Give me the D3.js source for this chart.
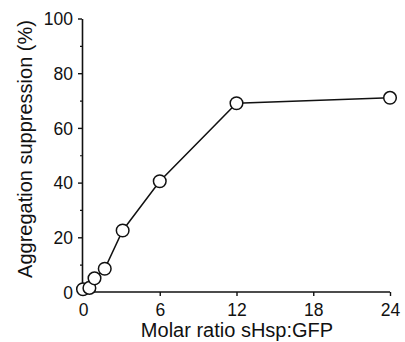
<!DOCTYPE html>
<html><head><meta charset="utf-8">
<script src="https://cdn.jsdelivr.net/npm/d3@7"></script>
<style>body{margin:0;background:#fff}svg{display:block}text{font-family:"Liberation Sans",Arial,sans-serif;fill:#111}</style>
</head><body>
<svg id="c" width="405" height="342"></svg>
<script>
const ratio = [0, 0.5, 0.9, 1.7, 3.1, 6, 12, 24];
const suppression = [1, 1.5, 5, 8.5, 22.5, 40.5, 69, 71];
const xTicks = [0, 6, 12, 18, 24];
const yTicks = [0, 20, 40, 60, 80, 100];
const yMinor = [10, 30, 50, 70, 90];

const svg = d3.select("#c");
const x = d3.scaleLinear().domain([0, 24]).range([83, 390]);
const y = d3.scaleLinear().domain([0, 100]).range([292, 18.5]);
const x0 = 82;

// y axis
const ya = svg.append("g").attr("transform", `translate(${x0},0)`)
  .call(d3.axisLeft(y).tickValues(yTicks).tickSize(4).tickPadding(5).tickSizeOuter(0));
ya.select(".domain").attr("stroke", "#111").attr("stroke-width", 1.6);
ya.selectAll(".tick line").attr("stroke", "#111").attr("stroke-width", 1.4);
ya.selectAll(".tick text").style("font-size", "17.5px").attr("dy", "0.36em");
svg.append("g").attr("transform", `translate(${x0},0)`)
  .call(d3.axisLeft(y).tickValues(yMinor).tickSize(2).tickFormat(""))
  .call(g => g.select(".domain").remove())
  .selectAll("line").attr("stroke", "#111").attr("stroke-width", 1.2);

// x axis
const xa = svg.append("g").attr("transform", `translate(0,${y(0)})`)
  .call(d3.axisBottom(x).tickValues(xTicks).tickSize(4).tickPadding(8).tickSizeOuter(0));
xa.select(".domain").attr("stroke", "#111").attr("stroke-width", 1.6).attr("d", `M${x0},0H${x(24)}`);
xa.selectAll(".tick line").attr("stroke", "#111").attr("stroke-width", 1.4);
xa.selectAll(".tick text").style("font-size", "17.5px");

// titles
svg.append("text").attr("x", 237).attr("y", 337).attr("text-anchor", "middle")
  .style("font-size", "20px").text("Molar ratio sHsp:GFP");
svg.append("text").attr("transform", "translate(31.5,149) rotate(-90)").attr("text-anchor", "middle")
  .style("font-size", "20px").text("Aggregation suppression (%)");

// line + points
const data = ratio.map((r, i) => ({r, v: suppression[i]}));
svg.append("path").datum(data)
  .attr("d", d3.line().x(d => x(d.r)).y(d => y(d.v)))
  .attr("fill", "none").attr("stroke", "#111").attr("stroke-width", 1.5);
svg.selectAll("circle.pt").data(data).join("circle").attr("class", "pt")
  .attr("cx", d => x(d.r)).attr("cy", d => y(d.v)).attr("r", 6.3)
  .attr("fill", "#fff").attr("stroke", "#111").attr("stroke-width", 1.5);
</script>
</body></html>
